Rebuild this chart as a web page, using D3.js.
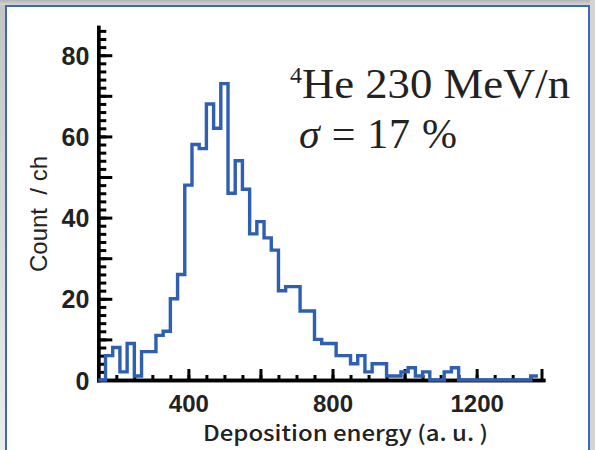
<!DOCTYPE html>
<html>
<head>
<meta charset="utf-8">
<script src="https://cdn.jsdelivr.net/npm/d3@7"></script>
<style>
  body { margin: 0; background: #fff; }
  svg { display: block; }
</style>
</head>
<body>
<div id="chart"></div>
<script>
// histogram counts, 20-unit channels starting at 150
const binStarts = d3.range(150, 1370, 20);
const counts = [0, 6, 8, 2, 9, 1, 7, 7, 11, 12,
  20, 26, 48, 58, 57, 68, 62, 73, 46, 54,
  47, 36, 39, 35, 32, 22, 23, 23, 17, 17,
  10, 9, 9, 6, 6, 4, 6, 2, 4, 4,
  1, 1, 2, 3, 1, 2, 0, 0, 2, 3,
  0, 0, 0, 0, 0, 0, 0, 0, 0, 0,
  1];
const binWidth = 20;

const xMajor = [400, 600, 800, 1000, 1200];
const xLabels = [400, 800, 1200];
const yMajor = [0, 10, 20, 30, 40, 50, 60, 70, 80];
const yLabels = [0, 20, 40, 60, 80];

const width = 595,
  height = 450;

const svg = d3.select("#chart")
  .append("svg")
  .attr("width", width)
  .attr("height", height);

// slide-like frame
const defs = svg.append("defs");
const gTop = defs.append("linearGradient").attr("id", "gTop").attr("x1", 0).attr("x2", 0).attr("y1", 0).attr("y2", 1);
gTop.append("stop").attr("offset", 0).attr("stop-color", "#b4b4b4");
gTop.append("stop").attr("offset", 1).attr("stop-color", "#d6d6d6");
const gLeft = defs.append("linearGradient").attr("id", "gLeft").attr("x1", 0).attr("x2", 0).attr("y1", 0).attr("y2", 1);
gLeft.append("stop").attr("offset", 0).attr("stop-color", "#c4c4c4");
gLeft.append("stop").attr("offset", 1).attr("stop-color", "#ececec");

svg.append("rect").attr("width", width).attr("height", height).attr("fill", "#fff");
svg.append("rect").attr("x", 0).attr("y", 0).attr("width", 5).attr("height", height).attr("fill", "url(#gLeft)");
svg.append("rect").attr("x", 0).attr("y", 0).attr("width", width).attr("height", 5).attr("fill", "url(#gTop)");
svg.append("rect").attr("x", 590).attr("y", 0).attr("width", 5).attr("height", height).attr("fill", "#d4d4d4");
svg.append("path")
  .attr("d", "M6,452V6H589V452")
  .attr("fill", "none")
  .attr("stroke", "#3d68b6")
  .attr("stroke-width", 2);

const x = d3.scaleLinear().domain([150, 1385]).range([98.3, 543.3]);
const y = d3.scaleLinear().domain([0, 87]).range([380, 26.8]);

// y axis: minor ticks every 2, major every 10
const yMinor = svg.append("g")
  .attr("transform", `translate(${x(150)},0)`)
  .call(d3.axisLeft(y).tickValues(d3.range(0, 87, 2)).tickSizeInner(-8).tickSizeOuter(0).tickFormat(""));
const yAxis = svg.append("g")
  .attr("transform", `translate(${x(150)},0)`)
  .call(d3.axisLeft(y).tickValues(yMajor).tickSizeInner(-14).tickSizeOuter(0).tickPadding(9)
    .tickFormat(d => yLabels.includes(d) ? d : ""));

// x axis: minor every 50, major every 200
const xMinor = svg.append("g")
  .attr("transform", `translate(0,${y(0)})`)
  .call(d3.axisBottom(x).tickValues(d3.range(200, 1385, 50)).tickSizeInner(-5).tickSizeOuter(0).tickFormat(""));
const xAxis = svg.append("g")
  .attr("transform", `translate(0,${y(0)})`)
  .call(d3.axisBottom(x).tickValues(xMajor.concat([1380])).tickSizeInner(-11).tickSizeOuter(0).tickPadding(15)
    .tickFormat(d => xLabels.includes(d) ? d : ""));

[yMinor, yAxis, xMinor, xAxis].forEach(g => {
  g.select(".domain").attr("stroke", "#000").attr("stroke-width", 3.3).attr("stroke-linecap", "square");
  g.selectAll(".tick line").attr("stroke", "#000").attr("stroke-width", 3);
});

yAxis.selectAll("text")
  .attr("font-family", "Liberation Sans, Arial, sans-serif")
  .attr("font-weight", "bold")
  .attr("font-size", 25)
  .attr("fill", "#222")
  .attr("dy", "0.36em");
xAxis.selectAll("text")
  .attr("font-family", "Liberation Sans, Arial, sans-serif")
  .attr("font-weight", "bold")
  .attr("font-size", 24)
  .attr("fill", "#222");

// histogram outline
const pts = binStarts.map((b, i) => [b, counts[i]]);
pts.push([binStarts[binStarts.length - 1] + binWidth, counts[counts.length - 1]]);

const line = d3.line()
  .x(d => x(d[0]))
  .y(d => y(d[1]))
  .curve(d3.curveStepAfter);

svg.append("path")
  .datum(pts)
  .attr("d", line)
  .attr("fill", "none")
  .attr("stroke", "#2e5fb1")
  .attr("stroke-width", 3.4)
  .attr("stroke-linejoin", "miter");

// axis titles
svg.append("text")
  .attr("transform", "translate(47,214) rotate(-90)")
  .attr("text-anchor", "middle")
  .attr("font-family", "Liberation Sans, Arial, sans-serif")
  .attr("font-size", 24)
  .attr("fill", "#222")
  .attr("xml:space", "preserve")
  .text("Count  / ch");

svg.append("text")
  .attr("x", 203)
  .attr("y", 441)
  .attr("font-family", "Noto Sans CJK JP, sans-serif")
  .attr("font-weight", 500)
  .attr("font-size", 21)
  .attr("fill", "#222")
  .attr("textLength", 285)
  .attr("lengthAdjust", "spacingAndGlyphs")
  .text("Deposition energy (a. u. )");

// annotation
const ann = svg.append("g")
  .attr("font-family", "Liberation Serif, Times New Roman, serif")
  .attr("fill", "#222");
ann.append("text")
  .attr("x", 290)
  .attr("y", 83)
  .attr("font-size", 24)
  .text("4");
ann.append("text")
  .attr("x", 302)
  .attr("y", 98)
  .attr("font-size", 42)
  .attr("textLength", 268)
  .attr("lengthAdjust", "spacingAndGlyphs")
  .text("He 230 MeV/n");
const sig = ann.append("text")
  .attr("x", 299)
  .attr("y", 148)
  .attr("font-size", 42)
  .attr("textLength", 158)
  .attr("lengthAdjust", "spacing");
sig.append("tspan").attr("font-style", "italic").text("σ");
sig.append("tspan").text(" = 17 %");
</script>
</body>
</html>
